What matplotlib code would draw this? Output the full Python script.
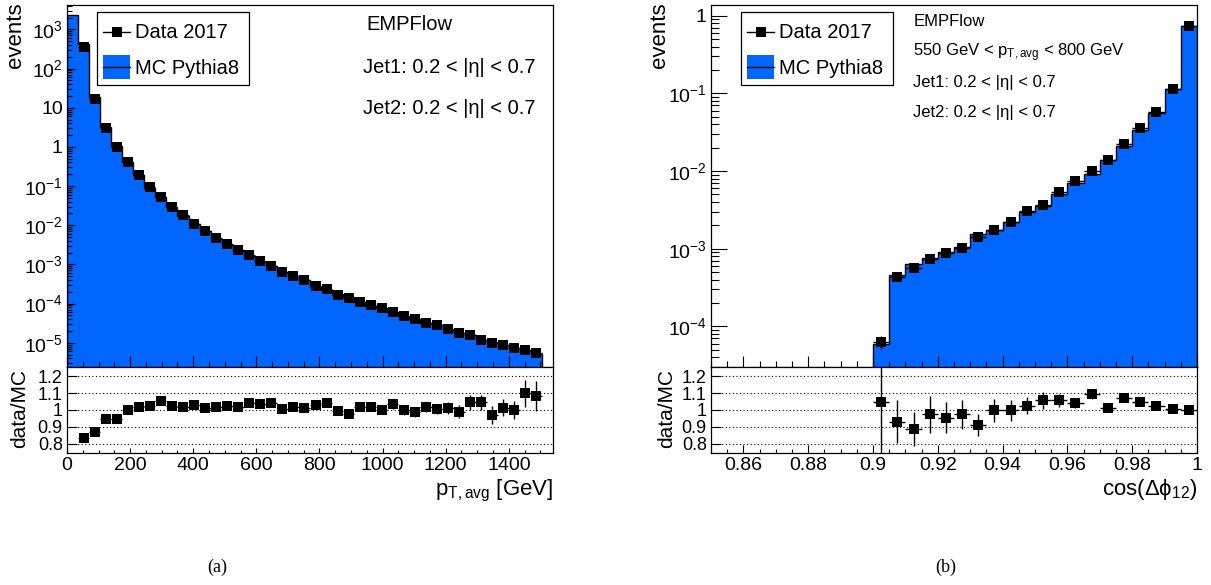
import numpy as np
import matplotlib
matplotlib.use("Agg")
import matplotlib.pyplot as plt
from matplotlib.patches import Rectangle
from matplotlib.lines import Line2D
from matplotlib.ticker import (MultipleLocator, LogLocator, NullFormatter,
                               FuncFormatter, FixedLocator)

plt.rcParams['font.family'] = ['Liberation Sans', 'DejaVu Sans']
plt.rcParams['mathtext.fontset'] = 'custom'
plt.rcParams['mathtext.rm'] = 'Liberation Sans'
plt.rcParams['mathtext.it'] = 'Liberation Sans:italic'
plt.rcParams['mathtext.bf'] = 'Liberation Sans:bold'
plt.rcParams['mathtext.sf'] = 'Liberation Sans'

# ---------------- data: panel (a) p_T,avg ----------------
pt_edges = np.linspace(0, 1505, 44)          # 43 bins of 35 GeV
mc_a = [2300, 418, 19.1, 3.17, 1.06, 0.41, 0.187, 0.0917, 0.0512, 0.0293,
        0.0177, 0.0107, 0.00703, 0.00451, 0.00322, 0.00226, 0.00164, 0.00116,
        8.95e-4, 6.26e-4, 5.12e-4, 3.94e-4, 2.72e-4, 2.21e-4, 1.71e-4, 1.44e-4,
        1.08e-4, 8.92e-5, 7.6e-5, 6.0e-5, 4.9e-5, 4.04e-5, 3.14e-5, 2.78e-5,
        2.17e-5, 1.82e-5, 1.53e-5, 1.15e-5, 1.03e-5, 8.58e-6, 7.2e-6, 6.0e-6,
        5.08e-6]
# data in bins 2..43
data_a = [350, 16.6, 3.0, 1.0, 0.41, 0.19, 0.094, 0.054, 0.030, 0.018,
          0.011, 0.0071, 0.0046, 0.0033, 0.0023, 0.0017, 0.0012, 9.3e-4,
          6.3e-4, 5.2e-4, 4.0e-4, 2.8e-4, 2.3e-4, 1.7e-4, 1.4e-4, 1.1e-4,
          9.1e-5, 7.6e-5, 6.2e-5, 4.9e-5, 4.0e-5, 3.2e-5, 2.8e-5, 2.2e-5,
          1.8e-5, 1.6e-5, 1.2e-5, 1.0e-5, 8.7e-6, 7.2e-6, 6.6e-6, 5.5e-6]
ratio_a = [0.837, 0.869, 0.945, 0.945, 0.998, 1.016, 1.025, 1.055, 1.025, 1.016,
           1.031, 1.010, 1.020, 1.025, 1.016, 1.039, 1.033, 1.039, 1.006, 1.016,
           1.014, 1.029, 1.039, 0.994, 0.975, 1.020, 1.020, 1.000, 1.033, 1.000,
           0.990, 1.020, 1.006, 1.014, 0.990, 1.045, 1.045, 0.971, 1.014, 1.000,
           1.098, 1.082]
ratio_err_a = [0.003, 0.003, 0.003, 0.003, 0.004, 0.004, 0.005, 0.005, 0.006, 0.006,
               0.007, 0.007, 0.008, 0.009, 0.010, 0.011, 0.012, 0.013, 0.014, 0.015,
               0.016, 0.017, 0.018, 0.019, 0.020, 0.021, 0.022, 0.023, 0.025, 0.027,
               0.029, 0.030, 0.032, 0.035, 0.038, 0.045, 0.045, 0.055, 0.050, 0.055,
               0.080, 0.088]
decades_a = [1e-5, 1e-4, 1e-3, 1e-2, 1e-1, 1, 10, 1e2, 1e3]

# ---------------- data: panel (b) cos(dphi12) ----------------
cos_edges = np.linspace(0.9, 1.0, 21)        # 20 bins of 0.005
mc_b = [6.0e-5, 4.6e-4, 6.3e-4, 7.5e-4, 9.1e-4, 1.05e-3, 1.54e-3, 1.74e-3,
        2.2e-3, 3.0e-3, 3.5e-3, 5.0e-3, 7.1e-3, 9.25e-3, 0.0137, 0.0208,
        0.034, 0.0556, 0.112, 0.737]
data_b = [6.3e-5, 4.3e-4, 5.6e-4, 7.3e-4, 8.7e-4, 1.02e-3, 1.4e-3, 1.74e-3,
          2.2e-3, 3.1e-3, 3.7e-3, 5.3e-3, 7.4e-3, 0.0101, 0.0139, 0.0223,
          0.0355, 0.057, 0.113, 0.736]
data_relerr_b = [0.2, 0.09, 0.08, 0.075, 0.065, 0.06, 0.05, 0.045, 0.04, 0.035,
                 0.03, 0.025, 0.02, 0.017, 0.015, 0.012, 0.01, 0.008, 0.006, 0.004]
ratio_b = [1.045, 0.931, 0.888, 0.975, 0.955, 0.975, 0.912, 0.998, 0.998, 1.025,
           1.057, 1.057, 1.039, 1.092, 1.014, 1.072, 1.045, 1.025, 1.006, 0.998]
ratio_err_b = [0.5, 0.127, 0.10, 0.108, 0.09, 0.085, 0.064, 0.067, 0.06, 0.05,
               0.05, 0.04, 0.03, 0.025, 0.02, 0.02, 0.015, 0.012, 0.01, 0.008]
decades_b = [1e-4, 1e-3, 1e-2, 1e-1, 1]

ratio_grid = [0.8, 0.9, 1.0, 1.1, 1.2]

# ---------------- figure ----------------
W, H = 1211, 585
fig = plt.figure(figsize=(W / 100, H / 100), dpi=100)
BLUE = '#0066ff'
TICKFS = 14
MS = 7.0


def px_axes(x0, y0, x1, y1):
    return fig.add_axes([x0 / W, 1 - y1 / H, (x1 - x0) / W, (y1 - y0) / H])


def fx(px):
    return px / W


def fy(py):
    return 1 - py / H


def log_fmt(v, pos):
    e = int(round(np.log10(v)))
    if e == 0:
        return '1'
    if e == 1:
        return '10'
    return r'$10^{%d}$' % e


def style(ax, ymaj_len, ymin_len, xmaj_len, xmin_len, ylabsize=TICKFS):
    for s in ax.spines.values():
        s.set_linewidth(0.9)
    ax.tick_params(axis='y', which='major', direction='in', length=ymaj_len,
                   width=0.8, labelsize=ylabsize, pad=3, right=False)
    ax.tick_params(axis='y', which='minor', direction='in', length=ymin_len,
                   width=0.8, right=False)
    ax.tick_params(axis='x', which='major', direction='in', length=xmaj_len,
                   width=0.8, labelsize=TICKFS, pad=3, top=False)
    ax.tick_params(axis='x', which='minor', direction='in', length=xmin_len,
                   width=0.8, top=False)


def main_panel(ax, edges, mc, centers, data, derr, halfw, ylim, xlim,
               ymaj, ymin, decades):
    ax.set_yscale('log')
    ax.stairs(mc, edges, fill=True, color=BLUE, baseline=1e-12, lw=0, zorder=1)
    ax.stairs(mc, edges, fill=False, color='black', baseline=1e-12, lw=1.0,
              zorder=2)
    ax.errorbar(centers, data, xerr=halfw, yerr=derr, fmt='s', color='black',
                ms=MS, mew=0, elinewidth=1.0, capsize=0, zorder=3)
    ax.set_xlim(*xlim)
    ax.set_ylim(*ylim)
    ax.yaxis.set_major_locator(FixedLocator(decades))
    minors = [d * s for d in [decades[0] / 10] + decades for s in range(2, 10)]
    minors = [m for m in minors if ylim[0] <= m <= ylim[1]]
    ax.yaxis.set_minor_locator(FixedLocator(minors))
    ax.yaxis.set_major_formatter(FuncFormatter(log_fmt))
    ax.yaxis.set_minor_formatter(NullFormatter())
    ax.tick_params(labelbottom=False)
    style(ax, ymaj, ymin, 7.7, 4.1)


def ratio_panel(ax, centers, ratio, rerr, halfw, xlim, xmaj_len, xmin_len):
    for v in ratio_grid:
        ax.axhline(v, color='black', ls=(0, (1, 2.2)), lw=0.8, zorder=1)
    ax.errorbar(centers, ratio, xerr=halfw, yerr=rerr, fmt='s', color='black',
                ms=MS, mew=0, elinewidth=1.0, capsize=0, zorder=3)
    ax.set_xlim(*xlim)
    ax.set_ylim(0.747, 1.253)
    ax.yaxis.set_major_locator(FixedLocator(ratio_grid))
    ax.yaxis.set_major_formatter(FuncFormatter(lambda v, p: '%g' % v))
    ax.xaxis.set_major_formatter(FuncFormatter(lambda v, p: '%g' % round(v, 4)))
    style(ax, 7.5, 4, xmaj_len, xmin_len, ylabsize=13)


def legend(axleft):
    bx0, by0, bx1, by1 = axleft + 30, 12, axleft + 182, 85
    fig.add_artist(Rectangle((fx(bx0), fy(by1)), fx(bx1 - bx0), (by1 - by0) / H,
                             transform=fig.transFigure, facecolor='white',
                             edgecolor='black', lw=0.9, zorder=5))
    lx0, lx1 = axleft + 36, axleft + 63
    fig.add_artist(Line2D([fx(lx0), fx(lx1)], [fy(32), fy(32)],
                          transform=fig.transFigure, color='black', lw=1,
                          zorder=6))
    fig.add_artist(Line2D([fx((lx0 + lx1) / 2)], [fy(32)],
                          transform=fig.transFigure, color='black', marker='s',
                          ms=MS, mew=0, zorder=7))
    fig.add_artist(Rectangle((fx(lx0), fy(79)), fx(lx1 - lx0), 24 / H,
                             transform=fig.transFigure, facecolor=BLUE,
                             edgecolor='none', zorder=6))
    fig.add_artist(Line2D([fx(lx0), fx(lx1)], [fy(67), fy(67)],
                          transform=fig.transFigure, color='black', lw=1,
                          zorder=7))
    fig.text(fx(axleft + 68), fy(38), 'Data 2017', fontsize=14.5,
             va='baseline', ha='left', zorder=8)
    fig.text(fx(axleft + 68), fy(74.5), 'MC Pythia8', fontsize=14.5,
             va='baseline', ha='left', zorder=8)


# ---------- panel (a) ----------
axA = px_axes(67, 5, 553, 367)
rA = px_axes(67, 367, 553, 453)
cen_a = 0.5 * (pt_edges[1:] + pt_edges[:-1])
hw_a = 0.5 * (pt_edges[1] - pt_edges[0])
derr_a = np.array(data_a) * np.array(ratio_err_a)
main_panel(axA, pt_edges, mc_a, cen_a[1:], data_a, derr_a, hw_a,
           (2.4e-6, 4.2e3), (0, 1540), 6.0, 3.4, decades_a)
axA.xaxis.set_major_locator(MultipleLocator(200))
axA.xaxis.set_minor_locator(MultipleLocator(50))
ratio_panel(rA, cen_a[1:], ratio_a, ratio_err_a, hw_a, (0, 1540), 3.6, 2.0)
rA.xaxis.set_major_locator(MultipleLocator(200))
rA.xaxis.set_minor_locator(MultipleLocator(50))

axA.text(0.615, 0.945, 'EMPFlow', transform=axA.transAxes, fontsize=14.5,
         va='center', ha='left')
axA.text(0.609, 0.826, 'Jet1: 0.2 < |η| < 0.7', transform=axA.transAxes,
         fontsize=14.5, va='center', ha='left')
axA.text(0.609, 0.715, 'Jet2: 0.2 < |η| < 0.7', transform=axA.transAxes,
         fontsize=14.5, va='center', ha='left')
legend(67)

fig.text(fx(16), fy(2), 'events', rotation=90, fontsize=16, ha='center',
         va='top')
fig.text(fx(20), fy(408), 'data/MC', rotation=90, fontsize=15, ha='center',
         va='center')
fig.text(fx(553), fy(495), r'p$_{\mathrm{T,avg}}$ [GeV]', fontsize=16,
         ha='right', va='baseline')

# ---------- panel (b) ----------
axB = px_axes(711, 5, 1197, 367)
rB = px_axes(711, 367, 1197, 453)
cen_b = 0.5 * (cos_edges[1:] + cos_edges[:-1])
hw_b = 0.5 * (cos_edges[1] - cos_edges[0])
derr_b = np.array(data_b) * np.array(data_relerr_b)
main_panel(axB, cos_edges, mc_b, cen_b, data_b, derr_b, hw_b,
           (3.0e-5, 1.37), (0.85, 1.0), 11.5, 6.0, decades_b)
axB.xaxis.set_major_locator(MultipleLocator(0.02))
axB.xaxis.set_minor_locator(MultipleLocator(0.005))
ratio_panel(rB, cen_b, ratio_b, ratio_err_b, hw_b, (0.85, 1.0), 5.5, 2.6)
rB.xaxis.set_major_locator(MultipleLocator(0.02))
rB.xaxis.set_minor_locator(MultipleLocator(0.005))

axB.text(0.416, 0.954, 'EMPFlow', transform=axB.transAxes, fontsize=12,
         va='center', ha='left')
axB.text(0.416, 0.867, r'550 GeV < p$_{\mathrm{T,avg}}$ < 800 GeV',
         transform=axB.transAxes, fontsize=12, va='center', ha='left')
axB.text(0.416, 0.785, 'Jet1: 0.2 < |η| < 0.7', transform=axB.transAxes,
         fontsize=12, va='center', ha='left')
axB.text(0.416, 0.704, 'Jet2: 0.2 < |η| < 0.7', transform=axB.transAxes,
         fontsize=12, va='center', ha='left')
legend(711)

fig.text(fx(659), fy(2), 'events', rotation=90, fontsize=16, ha='center',
         va='top')
fig.text(fx(667), fy(408), 'data/MC', rotation=90, fontsize=15, ha='center',
         va='center')
fig.text(fx(1197), fy(495), 'cos(Δϕ$_{12}$)', fontsize=16,
         ha='right', va='baseline')

fig.text(fx(217), fy(567), '(a)', fontsize=13, family='Liberation Serif',
         ha='center', va='center')
fig.text(fx(946), fy(567), '(b)', fontsize=13, family='Liberation Serif',
         ha='center', va='center')

fig.savefig('out.png', dpi=100)
